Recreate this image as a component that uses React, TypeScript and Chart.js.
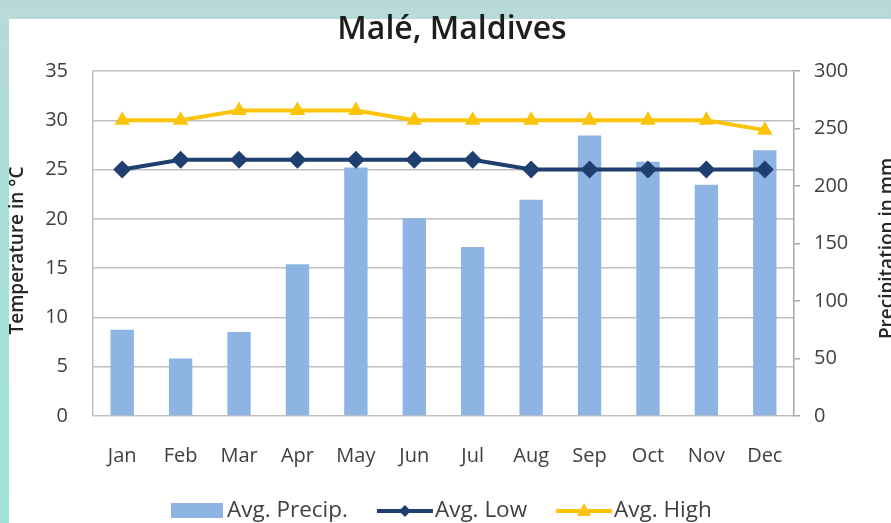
import { useEffect, useRef } from "react";
import { Chart, registerables, type ChartConfiguration, type Plugin } from "chart.js";

Chart.register(...registerables);

const chartTitle = "Malé, Maldives";
const months = ["Jan", "Feb", "Mar", "Apr", "May", "Jun", "Jul", "Aug", "Sep", "Oct", "Nov", "Dec"];
const avgPrecip = [75, 50, 73, 132, 216, 172, 147, 188, 244, 221, 201, 231];
const avgLow = [25, 26, 26, 26, 26, 26, 26, 25, 25, 25, 25, 25];
const avgHigh = [30, 30, 31, 31, 31, 30, 30, 30, 30, 30, 30, 29];
const tempAxis = { min: 0, max: 35, step: 5, title: "Temperature in °C" };
const precipAxis = { min: 0, max: 300, step: 50, title: "Precipitation in mm" };

const FONT = "'Open Sans', 'Noto Sans', sans-serif";
const TEXT = "#404040";

// titles + legend are drawn by hand so they can sit where the original puts them
const overlay: Plugin<"bar"> = {
  id: "overlay",
  afterDraw(chart) {
    const { ctx, chartArea } = chart;
    const midY = (chartArea.top + chartArea.bottom) / 2;
    ctx.save();

    ctx.fillStyle = "#1e1e1e";
    ctx.font = `600 32px ${FONT}`;
    ctx.textAlign = "center";
    ctx.textBaseline = "middle";
    ctx.fillText(chartTitle, 452, 30);

    ctx.font = `600 19px ${FONT}`;
    ctx.fillStyle = "#262626";
    ctx.save();
    ctx.translate(18, midY + 7);
    ctx.rotate(-Math.PI / 2);
    ctx.fillText(tempAxis.title, 0, 0);
    ctx.restore();

    ctx.save();
    ctx.translate(888, midY + 5);
    ctx.rotate(-Math.PI / 2);
    ctx.fillText(precipAxis.title, 0, 0);
    ctx.restore();

    // legend
    ctx.font = `22.5px ${FONT}`;
    ctx.textAlign = "left";
    let x = 171;
    const y = 511;
    chart.data.datasets.forEach((ds: any) => {
      if (ds.type === "line") {
        ctx.strokeStyle = ds.borderColor;
        ctx.lineWidth = 4;
        ctx.beginPath();
        ctx.moveTo(x, y);
        ctx.lineTo(x + 56, y);
        ctx.stroke();
        ctx.fillStyle = ds.borderColor;
        const cx = x + 28;
        ctx.beginPath();
        if (ds.pointStyle === "triangle") {
          ctx.moveTo(cx, y - 8);
          ctx.lineTo(cx + 7, y + 5);
          ctx.lineTo(cx - 7, y + 5);
        } else {
          ctx.moveTo(cx, y - 6);
          ctx.lineTo(cx + 6, y);
          ctx.lineTo(cx, y + 6);
          ctx.lineTo(cx - 6, y);
        }
        ctx.closePath();
        ctx.fill();
        x += 58;
      } else {
        ctx.fillStyle = ds.backgroundColor;
        ctx.fillRect(x, y - 8, 52, 15);
        x += 56;
      }
      ctx.fillStyle = TEXT;
      ctx.fillText(ds.label, x, y);
      x += ctx.measureText(ds.label).width + 29;
    });

    ctx.restore();
  },
};

export default function App() {
  const canvasRef = useRef<HTMLCanvasElement | null>(null);
  const chartRef = useRef<Chart | null>(null);

  useEffect(() => {
    const canvas = canvasRef.current;
    if (!canvas) return;

    if (chartRef.current) {
      chartRef.current.destroy();
      chartRef.current = null;
    }

    const config: ChartConfiguration<"bar"> = {
      type: "bar",
      data: {
        labels: months,
        datasets: [
          {
            type: "bar",
            label: "Avg. Precip.",
            data: avgPrecip,
            yAxisID: "y2",
            backgroundColor: "#8db4e2",
            barPercentage: 0.4,
            categoryPercentage: 1,
            order: 3,
          },
          {
            type: "line",
            label: "Avg. Low",
            data: avgLow,
            yAxisID: "y",
            borderColor: "#1f3f6f",
            backgroundColor: "#1f3f6f",
            borderWidth: 4,
            pointStyle: "rectRot",
            pointRadius: 9,
            pointBorderWidth: 0,
            tension: 0,
            order: 2,
          } as any,
          {
            type: "line",
            label: "Avg. High",
            data: avgHigh,
            yAxisID: "y",
            borderColor: "#fcc30b",
            backgroundColor: "#fcc30b",
            borderWidth: 4,
            pointStyle: "triangle",
            pointRadius: 9,
            pointBorderWidth: 0,
            tension: 0,
            order: 1,
          } as any,
        ],
      },
      options: {
        responsive: false,
        animation: false,
        layout: { padding: { top: 71, left: 0, right: 0, bottom: 0 } },
        plugins: {
          legend: { display: false },
          title: { display: false },
          tooltip: { enabled: false },
        },
        scales: {
          x: {
            afterFit: (scale) => {
              scale.height = 107;
            },
            grid: { display: false },
            border: { display: false },
            ticks: { color: TEXT, font: { family: FONT, size: 20 }, padding: 20 },
          },
          y: {
            position: "left",
            min: tempAxis.min,
            max: tempAxis.max,
            afterFit: (scale) => {
              scale.width = 93;
            },
            ticks: {
              stepSize: tempAxis.step,
              color: TEXT,
              font: { family: FONT, size: 20 },
              padding: 25,
            },
            grid: { color: "#bfbfbf", lineWidth: 1.5, drawTicks: false },
            border: { display: true, color: "#bfbfbf", width: 1.5 },
          },
          y2: {
            position: "right",
            min: precipAxis.min,
            max: precipAxis.max,
            afterFit: (scale) => {
              scale.width = 97;
            },
            ticks: {
              stepSize: precipAxis.step,
              color: TEXT,
              font: { family: FONT, size: 20 },
              padding: 14,
            },
            grid: {
              drawOnChartArea: false,
              drawTicks: true,
              tickLength: 6,
              color: "#a6a6a6",
              lineWidth: 1.5,
            },
            border: { display: true, color: "#a6a6a6", width: 1.5 },
          },
        },
      },
      plugins: [overlay],
    };

    chartRef.current = new Chart(canvas, config);

    return () => {
      if (chartRef.current) {
        chartRef.current.destroy();
        chartRef.current = null;
      }
    };
  }, []);

  return (
    <div
      style={{
        position: "absolute",
        left: 0,
        top: 0,
        width: 891,
        height: 523,
        overflow: "hidden",
        background: "linear-gradient(180deg, #b9d9d8 0%, #a9e0da 40%, #9fe3d8 100%)",
      }}
    >
      <div
        style={{
          position: "absolute",
          left: 9,
          top: 19,
          right: 0,
          bottom: 0,
          background: "#ffffff",
        }}
      />
      <canvas
        ref={canvasRef}
        width={891}
        height={523}
        style={{ position: "absolute", left: 0, top: 0, width: 891, height: 523 }}
        aria-label="Malé climate chart"
      />
    </div>
  );
}
